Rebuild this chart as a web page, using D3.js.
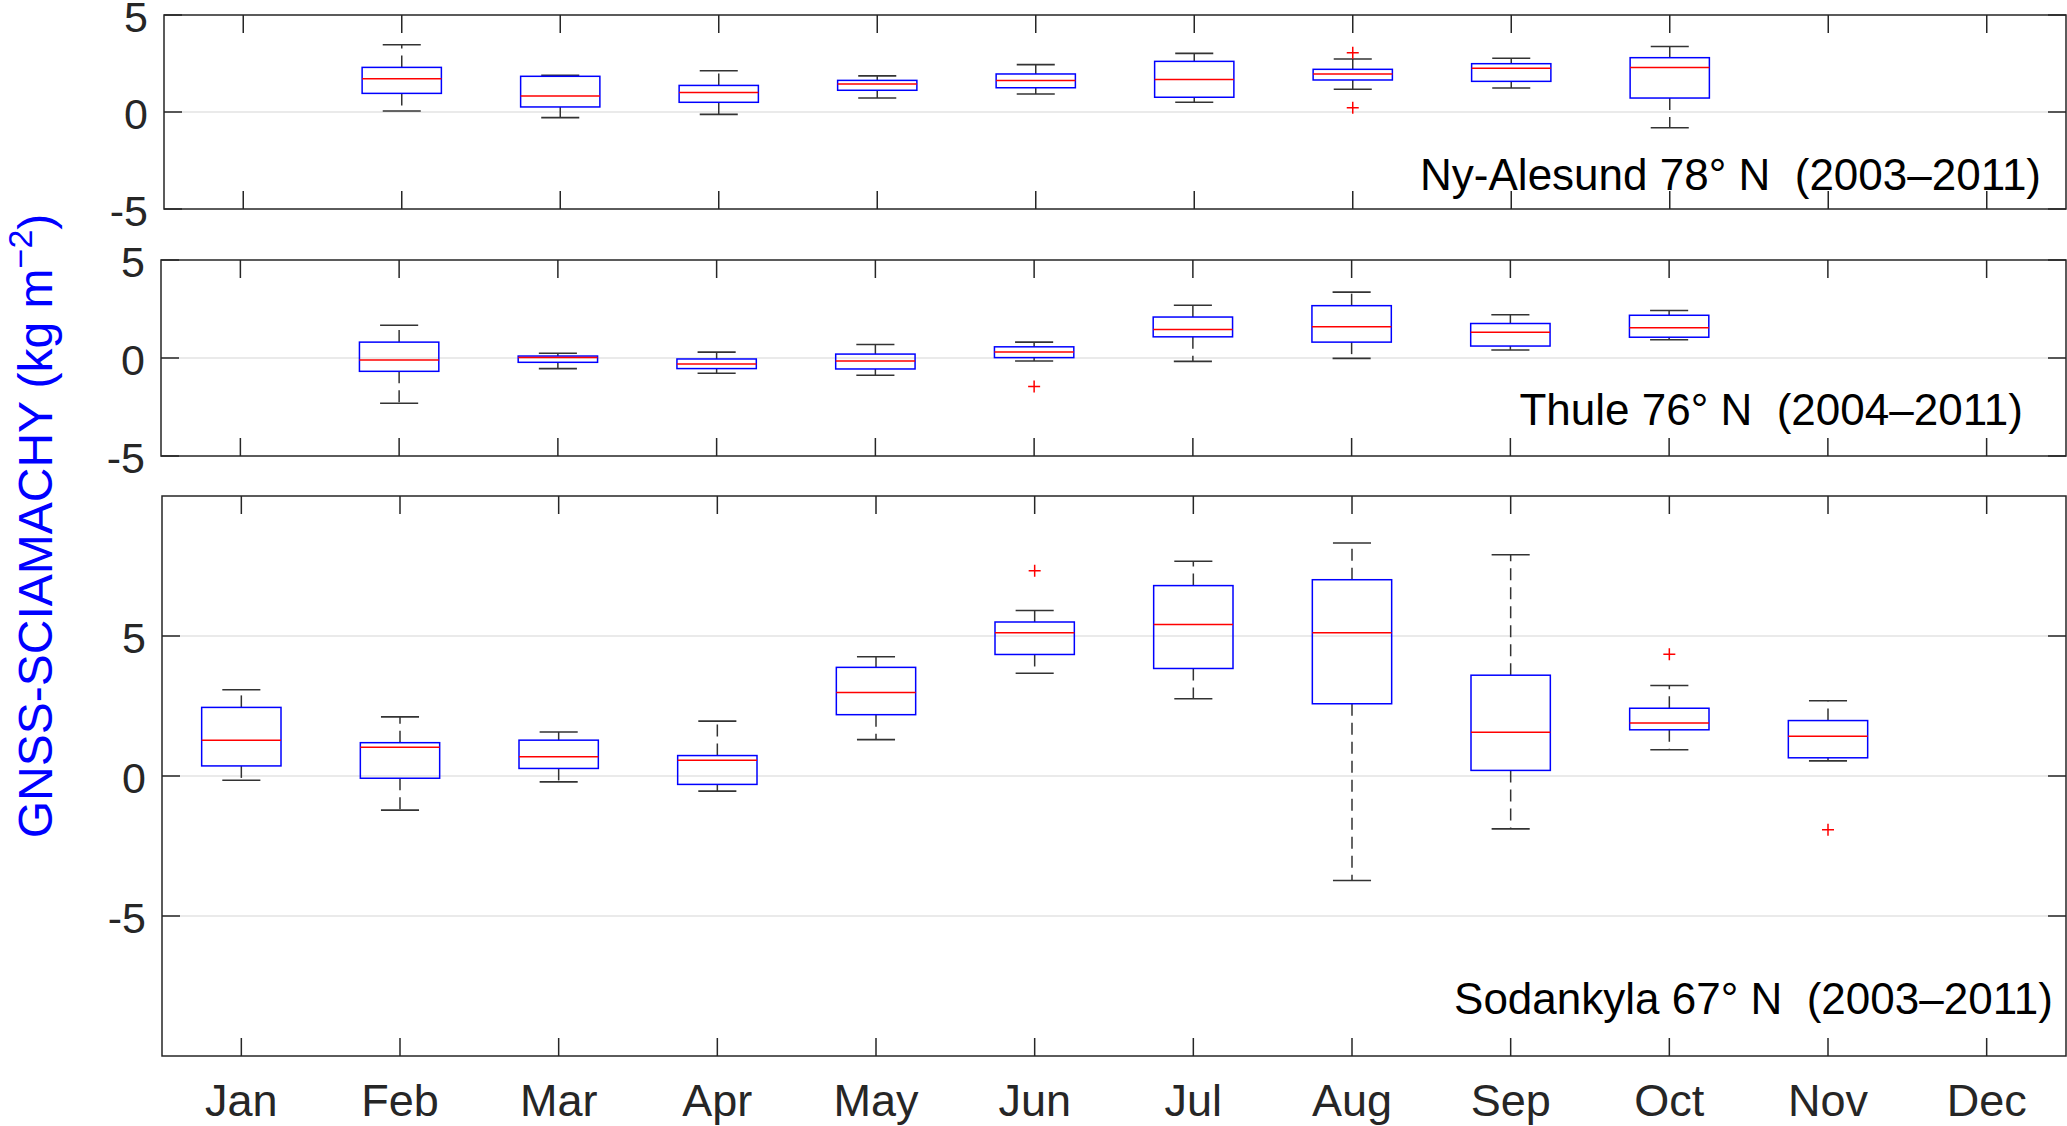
<!DOCTYPE html>
<html>
<head>
<meta charset="utf-8">
<script src="https://cdn.jsdelivr.net/npm/d3@7"></script>
<style>
  html, body { margin: 0; padding: 0; background: #fff; }
  svg { display: block; }
  text { font-family: "Liberation Sans", Arial, Helvetica, sans-serif; }
</style>
</head>
<body>
<svg id="chart" width="2067" height="1126"></svg>
<script>
// ---------------- DATA ----------------
const months = ["Jan","Feb","Mar","Apr","May","Jun","Jul","Aug","Sep","Oct","Nov","Dec"];
const yTicksSmall = [-5, 0, 5];
const yTicksLarge = [-5, 0, 5];

// Ny-Alesund 78N (2003-2011)
const nyLow  = [null, 0.05, -0.29, -0.12, 0.72, 0.93, 0.50, 1.17, 1.24, -0.81, null, null];
const nyQ1   = [null, 0.96,  0.26,  0.50, 1.12, 1.25, 0.76, 1.65, 1.58,  0.72, null, null];
const nyMed  = [null, 1.72,  0.82,  1.00, 1.44, 1.62, 1.68, 1.96, 2.25,  2.30, null, null];
const nyQ3   = [null, 2.30,  1.84,  1.37, 1.63, 1.96, 2.61, 2.20, 2.49,  2.80, null, null];
const nyHigh = [null, 3.47,  1.89,  2.13, 1.86, 2.44, 3.02, 2.73, 2.77,  3.38, null, null];
const nyOut  = [[8, 3.06], [8, 0.22]];

// Thule 76N (2004-2011)
const thLow  = [null, -2.31, -0.54, -0.78, -0.88, -0.15, -0.17, -0.02, 0.41, 0.93, null, null];
const thQ1   = [null, -0.68, -0.22, -0.54, -0.56,  0.02,  1.08,  0.81, 0.61, 1.06, null, null];
const thMed  = [null, -0.10,  0.02, -0.30, -0.15,  0.30,  1.45,  1.60, 1.32, 1.54, null, null];
const thQ3   = [null,  0.81,  0.10, -0.05,  0.20,  0.57,  2.09,  2.67, 1.76, 2.18, null, null];
const thHigh = [null,  1.67,  0.24,  0.30,  0.69,  0.81,  2.69,  3.36, 2.21, 2.42, null, null];
const thOut  = [[6, -1.45]];

// Sodankyla 67N (2003-2011)
const soLow  = [-0.15, -1.22, -0.21, -0.54, 1.30, 3.67, 2.76, -3.73, -1.89, 0.94, 0.54, null];
const soQ1   = [ 0.36, -0.08,  0.27, -0.30, 2.19, 4.34, 3.84,  2.58,  0.20, 1.65, 0.65, null];
const soMed  = [ 1.28,  1.03,  0.69,  0.56, 2.98, 5.12, 5.41,  5.12,  1.56, 1.89, 1.42, null];
const soQ3   = [ 2.45,  1.19,  1.28,  0.73, 3.88, 5.50, 6.80,  7.01,  3.60, 2.42, 1.98, null];
const soHigh = [ 3.08,  2.11,  1.57,  1.96, 4.26, 5.91, 7.67,  8.32,  7.90, 3.23, 2.69, null];
const soOut  = [[6, 7.33], [10, 4.35], [11, -1.92]];

const stationLabels = ["Ny-Alesund 78° N  (2003–2011)", "Thule 76° N  (2004–2011)", "Sodankyla 67° N  (2003–2011)"];

// ---------------- LAYOUT ----------------
const svg = d3.select("#chart");
const right = 2066;
const axisColor = "#262626";

const panels = [
  { top: 15,  bottom: 209,  left: 164, domain: [-5, 5],   ticks: yTicksSmall, grid: [0],
    low: nyLow, q1: nyQ1, med: nyMed, q3: nyQ3, high: nyHigh, out: nyOut, label: stationLabels[0], labelX: 2041, labelY: 190, xLabels: false },
  { top: 260, bottom: 456,  left: 161, domain: [-5, 5],   ticks: yTicksSmall, grid: [0],
    low: thLow, q1: thQ1, med: thMed, q3: thQ3, high: thHigh, out: thOut, label: stationLabels[1], labelX: 2023, labelY: 425, xLabels: false },
  { top: 496, bottom: 1056, left: 162, domain: [-10, 10], ticks: yTicksLarge, grid: [-5, 0, 5],
    low: soLow, q1: soQ1, med: soMed, q3: soQ3, high: soHigh, out: soOut, label: stationLabels[2], labelX: 2053, labelY: 1014, xLabels: true }
];

const tickLen = 18;

panels.forEach(p => {
  const x = d3.scaleLinear().domain([0.5, 12.5]).range([p.left, right]);
  const y = d3.scaleLinear().domain(p.domain).range([p.bottom, p.top]);
  const g = svg.append("g");

  // grid
  g.selectAll(".grid").data(p.grid).enter().append("line")
    .attr("x1", p.left).attr("x2", right)
    .attr("y1", d => y(d)).attr("y2", d => y(d))
    .attr("stroke", "#e3e3e3").attr("stroke-width", 1.6);

  // boxes
  const idx = d3.range(12).filter(i => p.med[i] !== null);
  const bw = x(1.25) - x(1);      // half box width (box = 0.5 units)
  const cw = x(1.12) - x(1);      // half cap width
  const bx = g.selectAll(".bx").data(idx).enter().append("g");

  // whiskers (dashed)
  bx.append("line")
    .attr("x1", i => x(i + 1)).attr("x2", i => x(i + 1))
    .attr("y1", i => y(p.q3[i])).attr("y2", i => y(p.high[i]))
    .attr("stroke", "#333").attr("stroke-width", 1.5).attr("stroke-dasharray", "12,7");
  bx.append("line")
    .attr("x1", i => x(i + 1)).attr("x2", i => x(i + 1))
    .attr("y1", i => y(p.q1[i])).attr("y2", i => y(p.low[i]))
    .attr("stroke", "#333").attr("stroke-width", 1.5).attr("stroke-dasharray", "12,7");
  // caps
  bx.append("line")
    .attr("x1", i => x(i + 1) - cw).attr("x2", i => x(i + 1) + cw)
    .attr("y1", i => y(p.high[i])).attr("y2", i => y(p.high[i]))
    .attr("stroke", "#333").attr("stroke-width", 1.6);
  bx.append("line")
    .attr("x1", i => x(i + 1) - cw).attr("x2", i => x(i + 1) + cw)
    .attr("y1", i => y(p.low[i])).attr("y2", i => y(p.low[i]))
    .attr("stroke", "#333").attr("stroke-width", 1.6);
  // box
  bx.append("rect")
    .attr("x", i => x(i + 1) - bw).attr("width", 2 * bw)
    .attr("y", i => y(p.q3[i])).attr("height", i => y(p.q1[i]) - y(p.q3[i]))
    .attr("fill", "none").attr("stroke", "#0000ff").attr("stroke-width", 1.5);
  // median
  bx.append("line")
    .attr("x1", i => x(i + 1) - bw).attr("x2", i => x(i + 1) + bw)
    .attr("y1", i => y(p.med[i])).attr("y2", i => y(p.med[i]))
    .attr("stroke", "#ff0000").attr("stroke-width", 1.5);

  // outliers
  g.selectAll(".out").data(p.out).enter().append("path")
    .attr("d", "M-6,0H6M0,-6V6")
    .attr("transform", d => `translate(${x(d[0])},${y(d[1])})`)
    .attr("stroke", "#ff0000").attr("stroke-width", 1.5).attr("fill", "none");

  // axes frame
  g.append("rect")
    .attr("x", p.left).attr("y", p.top)
    .attr("width", right - p.left).attr("height", p.bottom - p.top)
    .attr("fill", "none").attr("stroke", axisColor).attr("stroke-width", 1.5);

  // x ticks (inside, top and bottom)
  const xt = d3.range(1, 13);
  g.selectAll(".xtb").data(xt).enter().append("line")
    .attr("x1", d => x(d)).attr("x2", d => x(d))
    .attr("y1", p.bottom).attr("y2", p.bottom - tickLen)
    .attr("stroke", axisColor).attr("stroke-width", 1.5);
  g.selectAll(".xtt").data(xt).enter().append("line")
    .attr("x1", d => x(d)).attr("x2", d => x(d))
    .attr("y1", p.top).attr("y2", p.top + tickLen)
    .attr("stroke", axisColor).attr("stroke-width", 1.5);

  // y ticks (inside, left and right)
  g.selectAll(".ytl").data(p.ticks).enter().append("line")
    .attr("x1", p.left).attr("x2", p.left + tickLen)
    .attr("y1", d => y(d)).attr("y2", d => y(d))
    .attr("stroke", axisColor).attr("stroke-width", 1.5);
  g.selectAll(".ytr").data(p.ticks).enter().append("line")
    .attr("x1", right).attr("x2", right - tickLen)
    .attr("y1", d => y(d)).attr("y2", d => y(d))
    .attr("stroke", axisColor).attr("stroke-width", 1.5);

  // y tick labels
  g.selectAll(".ytlab").data(p.ticks).enter().append("text")
    .attr("x", p.left - 16).attr("y", d => y(d))
    .attr("dy", "0.40em")
    .attr("text-anchor", "end")
    .attr("font-size", 43).attr("fill", axisColor)
    .text(d => d);

  // x tick labels
  if (p.xLabels) {
    g.selectAll(".xlab").data(xt).enter().append("text")
      .attr("x", d => x(d)).attr("y", 1116)
      .attr("text-anchor", "middle")
      .attr("font-size", 45).attr("fill", axisColor)
      .text(d => months[d - 1]);
  }

  // station label
  g.append("text")
    .attr("x", p.labelX).attr("y", p.labelY)
    .attr("text-anchor", "end")
    .attr("font-size", 44).attr("fill", "#000")
    .style("white-space", "pre")
    .text(p.label);
});

// y axis label
const yl = svg.append("text")
  .attr("transform", "translate(52,526) rotate(-90)")
  .attr("text-anchor", "middle")
  .attr("font-size", 48).attr("fill", "#0000ff");
yl.append("tspan").text("GNSS-SCIAMACHY (kg m");
yl.append("tspan").attr("font-size", 34).attr("dy", -20).text("−2");
yl.append("tspan").attr("dy", 20).text(")");
</script>
</body>
</html>
